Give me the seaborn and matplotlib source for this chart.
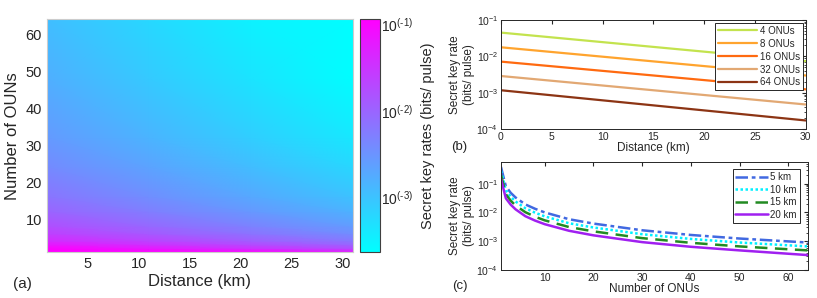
import numpy as np
import pandas as pd
import matplotlib
matplotlib.use("Agg")
import matplotlib.pyplot as plt
import seaborn as sns
from matplotlib.colors import LogNorm

# ---- data ----
# (a) heatmap: key rate vs ONU count (rows) and distance (columns)
heat_onus = [1, 2, 3, 4, 6, 8, 12, 16, 24, 32, 48, 64]
heat_dist = [1, 11, 21, 31]
heat_rate = [
    [0.47, 0.25, 0.133, 0.071],
    [0.122, 0.065, 0.0346, 0.0185],
    [0.068, 0.036, 0.019, 0.0102],
    [0.042, 0.0225, 0.012, 0.0064],
    [0.0244, 0.013, 0.0069, 0.0037],
    [0.0169, 0.009, 0.0048, 0.00256],
    [0.0100, 0.00535, 0.00285, 0.00152],
    [0.0068, 0.0036, 0.0019, 0.00102],
    [0.0040, 0.00215, 0.00114, 0.00061],
    [0.00272, 0.00145, 0.00077, 0.00041],
    [0.0016, 0.00085, 0.00045, 0.00024],
    [0.00113, 0.0006, 0.00032, 0.00017],
]

# (b) key rate vs distance, end points of each straight (log) line
b_dist = [0, 30]
b_labels = ["4 ONUs", "8 ONUs", "16 ONUs", "32 ONUs", "64 ONUs"]
b_rates = [
    [0.045, 0.0074],
    [0.0178, 0.0030],
    [0.0072, 0.00125],
    [0.0029, 0.00048],
    [0.00118, 0.000175],
]
b_colors = ["#c3e34e", "#ffa42e", "#ff6a10", "#e2a873", "#8c3414"]

# (c) key rate vs number of ONUs for four distances
c_onus = [1, 2, 3, 4, 6, 8, 10, 15, 20, 30, 40, 50, 64]
c_labels = ["5 km", "10 km", "15 km", "20 km"]
c_rates = [
    [0.38, 0.081, 0.048, 0.033, 0.019, 0.0134, 0.0100, 0.0058, 0.0041, 0.0024, 0.00165, 0.00124, 0.00090],
    [0.28, 0.059, 0.035, 0.024, 0.014, 0.0098, 0.0073, 0.0042, 0.0030, 0.00175, 0.0012, 0.0009, 0.00066],
    [0.20, 0.043, 0.0255, 0.0175, 0.0102, 0.0071, 0.0053, 0.0031, 0.0022, 0.00128, 0.00088, 0.00066, 0.00048],
    [0.145, 0.031, 0.0186, 0.0128, 0.0074, 0.0052, 0.0039, 0.0023, 0.0016, 0.00093, 0.00064, 0.00048, 0.00033],
]
c_colors = ["#4169e1", "#00f0ff", "#228b22", "#a020f0"]
c_dashes = [(5, 1.5, 1.5, 1.5), (1, 1), (5, 3), ""]

sns.set_style("white")
plt.rcParams["font.family"] = ["Liberation Sans", "DejaVu Sans"]
plt.rcParams["mathtext.fontset"] = "custom"
plt.rcParams["mathtext.rm"] = "Liberation Sans"
plt.rcParams["mathtext.it"] = "Liberation Sans:italic"
plt.rcParams["mathtext.bf"] = "Liberation Sans:bold"

fig = plt.figure(figsize=(8.17, 2.98), dpi=100)

# ---- (a) heatmap ----
ax_a = fig.add_axes([0.0575, 0.1533, 0.3745, 0.7813])
X, Y = np.meshgrid(heat_dist, heat_onus)
mesh = ax_a.pcolormesh(X, Y, np.array(heat_rate), cmap="cool",
                       norm=LogNorm(vmin=2.3e-4, vmax=0.114), shading="gouraud")
ax_a.set_xlim(1, 31)
ax_a.set_ylim(1, 64)
ax_a.set_xticks([5, 10, 15, 20, 25, 30])
ax_a.set_yticks([10, 20, 30, 40, 50, 60])
ax_a.tick_params(length=0, labelsize=10.5, colors="#262626")
ax_a.set_xlabel("Distance (km)", fontsize=12, color="#262626", labelpad=2)
ax_a.set_ylabel("Number of OUNs", fontsize=12, color="#262626", labelpad=4)
for s in ax_a.spines.values():
    s.set_color("#cccccc")
    s.set_linewidth(0.8)
fig.text(0.016, 0.035, "(a)", fontsize=11, color="#262626")

cax = fig.add_axes([0.4406, 0.1533, 0.0245, 0.7813])
cb = fig.colorbar(mesh, cax=cax)
cb.set_ticks([1e-1, 1e-2, 1e-3])
cb.set_ticklabels([r"$10^{(\text{-}1)}$", r"$10^{(\text{-}2)}$", r"$10^{(\text{-}3)}$"])
cb.ax.minorticks_off()
cb.ax.tick_params(direction="in", length=4, labelsize=10, colors="#262626", pad=1)
cb.outline.set_edgecolor("#404040")
cb.set_label("Secret key rates (bits/ pulse)", fontsize=10.5, color="#262626")
cb.ax.yaxis.set_label_coords(3.05, 0.5)

def style_log_axes(ax):
    ax.set_yscale("log")
    ax.tick_params(which="both", direction="in", top=True, right=True,
                   labelsize=7.5, colors="#262626", pad=2)
    ax.tick_params(which="major", length=3)
    ax.tick_params(which="minor", length=1.5)
    for s in ax.spines.values():
        s.set_color("#262626")
        s.set_linewidth(0.7)


# ---- (b) key rate vs distance ----
ax_b = fig.add_axes([0.6132, 0.566, 0.373, 0.367])
for lab, rates, col in zip(b_labels, b_rates, b_colors):
    sns.lineplot(x=b_dist, y=rates, ax=ax_b, color=col, lw=1.6, label=lab)
style_log_axes(ax_b)
ax_b.set_xlim(0, 30)
ax_b.set_ylim(1e-4, 1e-1)
ax_b.set_xticks([0, 5, 10, 15, 20, 25, 30])
ax_b.set_xlabel("Distance (km)", fontsize=8.5, color="#262626", labelpad=0)
ax_b.set_ylabel("Secret key rate\n(bits/ pulse)", fontsize=8.5, color="#262626", labelpad=1)
ax_b.legend(loc="upper right", fontsize=7, frameon=True, fancybox=False,
            edgecolor="#262626", handlelength=4, handletextpad=0.3,
            labelspacing=0.3, borderpad=0.3, borderaxespad=0.3,
            framealpha=1).get_frame().set_linewidth(0.7)
fig.text(0.552, 0.495, "(b)", fontsize=9.5, color="#262626")

# ---- (c) key rate vs number of ONUs ----
ax_c = fig.add_axes([0.6132, 0.094, 0.3754, 0.3634])
for lab, rates, col, dsh in zip(c_labels, c_rates, c_colors, c_dashes):
    line = sns.lineplot(x=c_onus, y=rates, ax=ax_c, color=col, lw=1.8, label=lab).lines[-1]
    if dsh:
        line.set_dashes(dsh)
style_log_axes(ax_c)
ax_c.set_xlim(1, 64)
ax_c.set_ylim(1e-4, 0.58)
ax_c.set_xticks([10, 20, 30, 40, 50, 60])
ax_c.set_yticks([1e-1, 1e-2, 1e-3, 1e-4])
ax_c.set_xlabel("Number of ONUs", fontsize=8.5, color="#262626", labelpad=0)
ax_c.set_ylabel("Secret key rate\n(bits/ pulse)", fontsize=8.5, color="#262626", labelpad=1)
ax_c.legend(loc="upper right", fontsize=7, frameon=True, fancybox=False,
            edgecolor="#262626", handlelength=3.3, handletextpad=0.3,
            labelspacing=0.25, borderpad=0.3, borderaxespad=0.8,
            framealpha=1).get_frame().set_linewidth(0.7)
fig.text(0.553, 0.03, "(c)", fontsize=9.5, color="#262626")

fig.savefig("out.png", dpi=100)
